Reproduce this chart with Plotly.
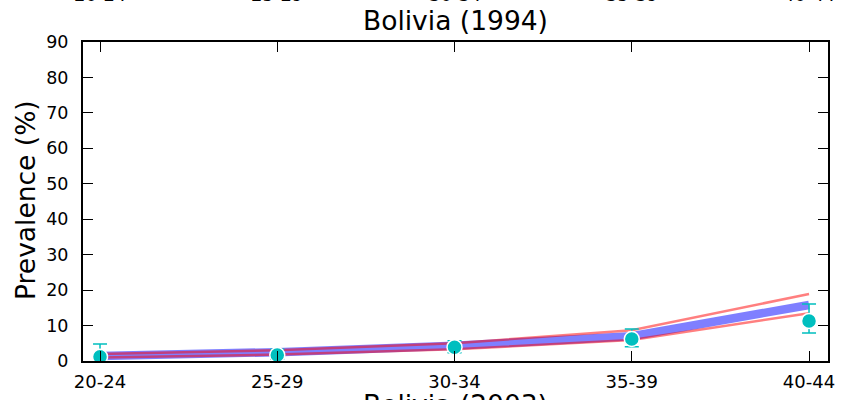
import plotly.graph_objects as go

age_groups = ["20-24", "25-29", "30-34", "35-39", "40-44"]
model_mean = [1.4, 2.5, 4.3, 7.0, 15.8]
model_upper = [2.0, 3.0, 5.0, 8.7, 18.9]
model_lower = [1.0, 1.8, 3.3, 5.9, 13.5]
observed = [1.2, 1.7, 3.9, 6.2, 11.3]
obs_upper = [4.8, 3.3, 5.7, 9.0, 16.1]
obs_lower = [0.0, 0.5, 2.3, 4.0, 7.9]
y_ticks = [0, 10, 20, 30, 40, 50, 60, 70, 80, 90]

xi = list(range(len(age_groups)))
FONT = "DejaVu Sans"

fig = go.Figure()
fig.add_trace(go.Scatter(x=xi, y=model_mean, mode="lines",
                         line=dict(color="rgba(0,0,255,0.5)", width=8.5),
                         hoverinfo="skip", showlegend=False))
fig.add_trace(go.Scatter(x=xi, y=model_upper, mode="lines",
                         line=dict(color="rgba(255,0,0,0.5)", width=2.5),
                         hoverinfo="skip", showlegend=False))
fig.add_trace(go.Scatter(x=xi, y=model_lower, mode="lines",
                         line=dict(color="rgba(255,0,0,0.5)", width=2.5),
                         hoverinfo="skip", showlegend=False))
fig.add_trace(go.Scatter(
    x=xi, y=observed, mode="markers",
    marker=dict(color="#00bfbf", size=15, line=dict(color="white", width=1.5)),
    error_y=dict(type="data", symmetric=False,
                 array=[u - o for u, o in zip(obs_upper, observed)],
                 arrayminus=[o - l for o, l in zip(observed, obs_lower)],
                 color="#00bfbf", thickness=1.5, width=7),
    showlegend=False))

fig.update_layout(
    width=841, height=400,
    margin=dict(l=83, r=13, t=42, b=39, autoexpand=False),
    paper_bgcolor="white", plot_bgcolor="white",
    font=dict(family=FONT, color="black", size=18),
)
fig.update_xaxes(
    range=[-0.096, 4.107], tickvals=xi, ticktext=age_groups,
    showgrid=False, zeroline=False, automargin=False,
    showline=True, linecolor="black", linewidth=2, mirror="ticks",
    ticks="inside", ticklen=10, tickwidth=1.3, tickcolor="black",
    tickfont=dict(family=FONT, size=18), ticklabelstandoff=3,
)
fig.update_yaxes(
    range=[0, 90], tickvals=y_ticks,
    showgrid=False, zeroline=False, automargin=False,
    showline=True, linecolor="black", linewidth=2, mirror="ticks",
    ticks="inside", ticklen=10, tickwidth=1.3, tickcolor="black",
    tickfont=dict(family=FONT, size=17.5), ticklabelstandoff=9,
)

H = 319.0
def py(pix):
    return (361 - pix) / H

annotations = []
for i, lab in enumerate(age_groups):
    annotations.append(dict(x=i, xref="x", y=py(-6), yref="paper", text=lab,
                            showarrow=False, yanchor="middle",
                            font=dict(family=FONT, size=18)))
annotations.append(dict(x=0.5, xref="paper", y=py(20), yref="paper",
                        text="Bolivia (1994)", showarrow=False, yanchor="middle",
                        font=dict(family=FONT, size=26.5)))
annotations.append(dict(x=0.5, xref="paper", y=py(404), yref="paper",
                        text="Bolivia (2003)", showarrow=False, yanchor="middle",
                        font=dict(family=FONT, size=26.5)))
annotations.append(dict(x=(25 - 83) / 745.0, xref="paper", y=py(200), yref="paper",
                        text="Prevalence (%)", textangle=-90, showarrow=False,
                        xanchor="center", yanchor="middle",
                        font=dict(family=FONT, size=26.5)))
fig.update_layout(annotations=annotations)

fig.write_html("out.html",
               config={"displayModeBar": False},
               post_script="document.body.style.margin='0';document.body.style.overflow='hidden';")
